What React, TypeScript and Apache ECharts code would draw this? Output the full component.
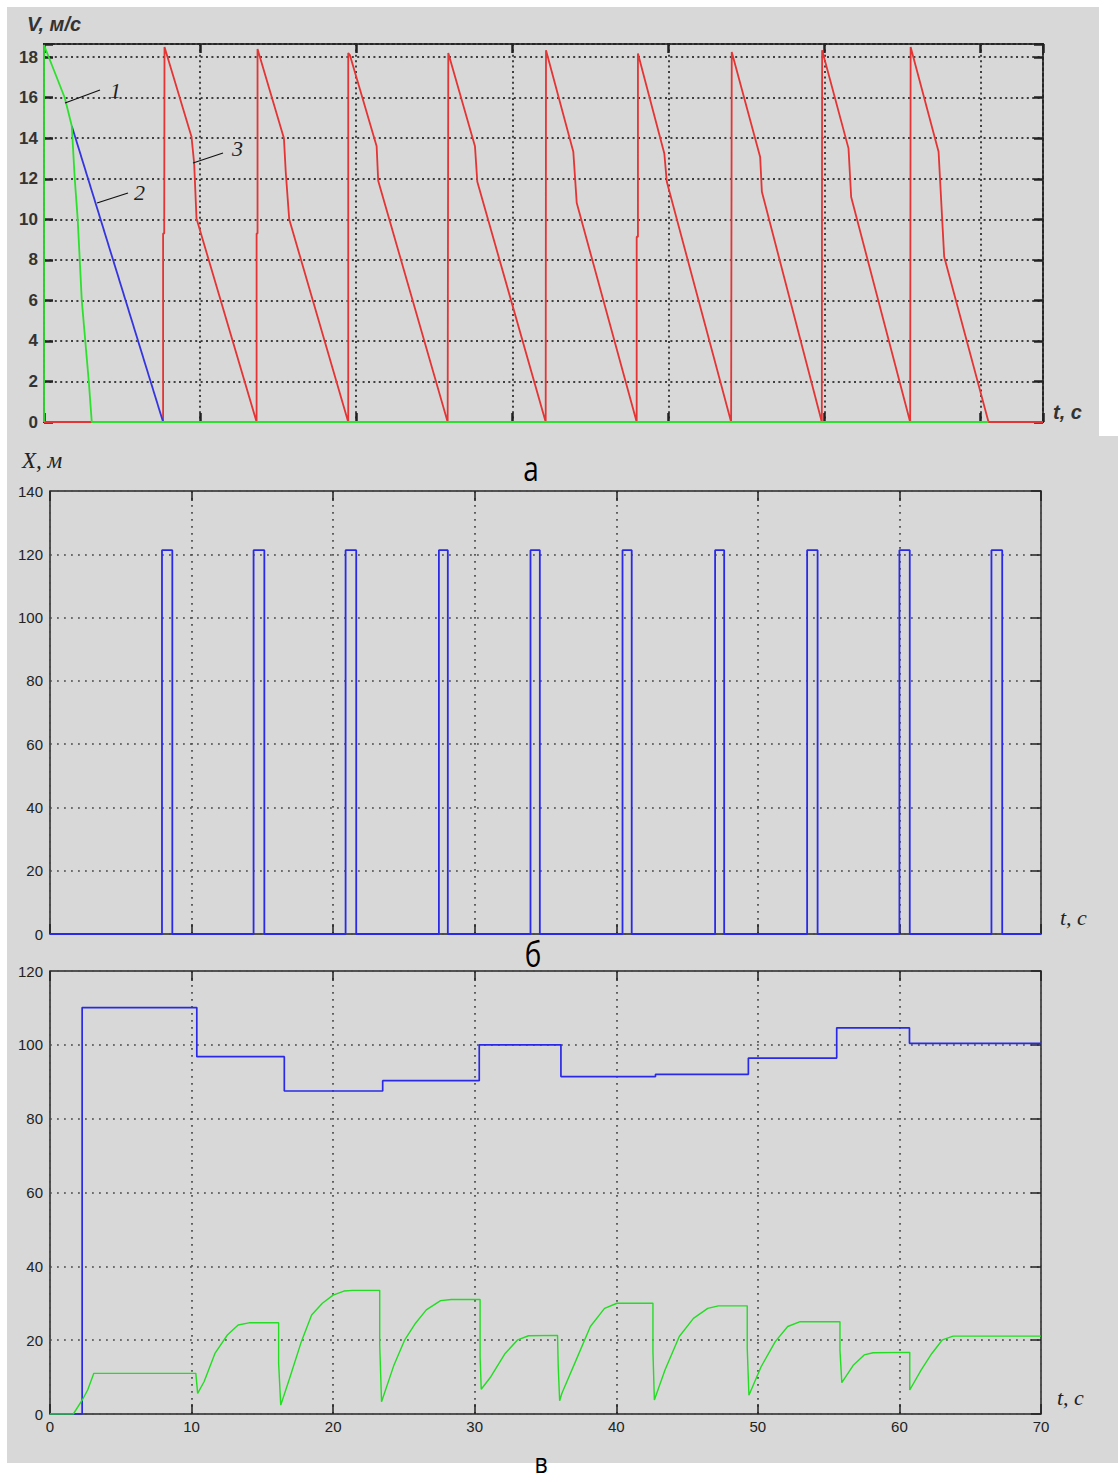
import React, { useEffect, useRef } from "react";
import * as echarts from "echarts";

// ---------- Panel а: V, м/с versus t, c ----------
const speedCurve1: [number, number][] = [
  [0, 0], [0, 18.6], [1.33, 16], [1.78, 14.6], [1.97, 12], [2.16, 10], [2.42, 6], [2.87, 2], [3.06, 0], [60.5, 0],
];
const speedCurve2: [number, number][] = [
  [1.78, 14.6], [7.63, 0],
];
const speedCurve3: [number, number][] = [
  [0, 0], [7.63, 0], [7.63, 9.3], [7.7, 9.3], [7.72, 18.5], [9.45, 14.07], [9.62, 12.76], [9.77, 10.04], [13.62, 0],
  [13.62, 9.3], [13.68, 9.3], [13.68, 18.4], [15.37, 14.0], [15.49, 12.3], [15.71, 10.0], [19.49, 0],
  [19.49, 18.2], [19.6, 18.1], [21.31, 13.6], [21.41, 11.9], [25.86, 0],
  [25.9, 18.2], [27.61, 13.6], [27.76, 11.85], [32.14, 0],
  [32.16, 18.34], [33.91, 13.33], [34.13, 10.8], [37.97, 0],
  [37.97, 9.14], [38.05, 9.14], [38.05, 18.18], [39.74, 13.25], [39.9, 11.85], [44.02, 0],
  [44.06, 18.26], [45.88, 13.08], [45.99, 11.36], [49.83, 0],
  [49.85, 18.34], [51.54, 13.5], [51.71, 11.1], [55.49, 0],
  [55.52, 18.5], [57.31, 13.33], [57.67, 8.15], [60.51, 0], [64, 0],
];
const speedTicks = [0, 2, 4, 6, 8, 10, 12, 14, 16, 18];

// ---------- Panel б: X, м pulses ----------
const pulseStart = [7.91, 14.38, 20.88, 27.47, 33.94, 40.44, 46.98, 53.48, 60.0, 66.5];
const pulseEnd = [8.64, 15.14, 21.63, 28.1, 34.6, 41.09, 47.62, 54.22, 60.73, 67.26];
const pulseHeight = [121.3, 121.3, 121.3, 121.3, 121.3, 121.3, 121.3, 121.3, 121.3, 121.3];
const distanceTicks = [0, 20, 40, 60, 80, 100, 120, 140];

// ---------- Panel в: blue steps and green response ----------
const stepTimes = [2.27, 10.37, 16.55, 23.5, 30.32, 36.09, 42.77, 49.33, 55.57, 60.71];
const stepLevels = [110.1, 96.8, 87.5, 90.3, 100.0, 91.4, 92.0, 96.4, 104.6, 100.4];
const responseCurve: [number, number][] = [
  [0, 0], [1.65, 0], [2.28, 3.8], [2.66, 6.5], [3.09, 11.0], [10.3, 11.0],
  [10.43, 5.6], [10.89, 8.8], [11.65, 16.4], [12.53, 21.4], [13.29, 24.1], [14.05, 24.7], [16.15, 24.7],
  [16.15, 13.7], [16.3, 2.4], [16.96, 10.1], [17.72, 19.2], [18.48, 26.8], [19.24, 30.0], [20.0, 32.2], [20.76, 33.3], [21.39, 33.5], [23.29, 33.5],
  [23.29, 18.7], [23.42, 3.3], [24.3, 13.3], [25.06, 20.1], [25.82, 24.6], [26.58, 28.2], [27.59, 30.7], [28.35, 31.0], [30.38, 31.0],
  [30.38, 15.5], [30.46, 6.7], [31.14, 10.1], [32.15, 16.4], [33.04, 20.1], [33.8, 21.2], [35.85, 21.3],
  [35.9, 12.8], [36.0, 3.6], [36.16, 5.6], [37.16, 14.6], [38.17, 23.7], [39.17, 28.6], [40.05, 30.0], [42.59, 30.0],
  [42.59, 16.9], [42.69, 3.8], [43.44, 11.9], [44.45, 21.0], [45.45, 25.9], [46.46, 28.6], [47.21, 29.3], [49.25, 29.3],
  [49.25, 17.8], [49.37, 5.1], [50.23, 12.8], [51.23, 19.6], [52.11, 23.7], [52.99, 25.0], [55.8, 25.0],
  [55.8, 17.3], [55.93, 8.5], [56.76, 13.3], [57.51, 16.0], [58.14, 16.6], [60.73, 16.7],
  [60.73, 6.5], [61.53, 11.9], [62.29, 16.4], [63.04, 20.1], [63.79, 21.1], [70, 21.1],
];
const timeTicks = [0, 10, 20, 30, 40, 50, 60, 70];
const responseTicks = [0, 20, 40, 60, 80, 100, 120];

// ---------- builders ----------
function buildPulses(): [number, number][] {
  const pts: [number, number][] = [[0, 0]];
  pulseStart.forEach((s, i) => {
    pts.push([s, 0], [s, pulseHeight[i]], [pulseEnd[i], pulseHeight[i]], [pulseEnd[i], 0]);
  });
  pts.push([70, 0]);
  return pts;
}
function buildSteps(): [number, number][] {
  const pts: [number, number][] = [[0, 0]];
  let prev = 0;
  stepTimes.forEach((t, i) => {
    pts.push([t, prev], [t, stepLevels[i]]);
    prev = stepLevels[i];
  });
  pts.push([70, prev]);
  return pts;
}

const SANS = "'Liberation Sans', Arial, sans-serif";
const SERIF = "'Liberation Serif', 'Times New Roman', serif";
const CAPTION = "'Open Sans', 'Noto Sans', sans-serif";
const GRAY = "#d8d8d8";

function axis(o: any) {
  const {
    gridIndex, position, min, max, interval, labels, ticksLen, tickWidth, split, splitColor, splitWidth, dash,
    fontSize, fontWeight, labelColor, margin, tickShow,
  } = o;
  return {
    type: "value",
    gridIndex,
    position,
    min,
    max,
    interval,
    axisLine: { show: false, onZero: false },
    axisTick: {
      show: tickShow !== false,
      inside: true,
      length: ticksLen,
      lineStyle: { color: "#222", width: tickWidth },
    },
    axisLabel: {
      show: !!labels,
      fontFamily: SANS,
      fontSize,
      fontWeight: fontWeight || "normal",
      color: labelColor || "#222",
      margin,
      formatter: (v: number) => (labels && labels.includes(v) ? String(v) : ""),
    },
    splitLine: {
      show: !!split,
      lineStyle: { color: splitColor, width: splitWidth, type: dash },
    },
  };
}

function buildOption(): any {
  const aSplit = { split: true, splitColor: "#404040", splitWidth: 2, dash: [2, 3.4] };
  const bSplit = { split: true, splitColor: "#4a4a4a", splitWidth: 1.7, dash: [1.8, 5.2] };
  const xAxis = [
    axis({ gridIndex: 0, position: "bottom", min: 0, max: 64, interval: 10, ticksLen: 9, tickWidth: 2.5, ...aSplit }),
    axis({ gridIndex: 0, position: "top", min: 0, max: 64, interval: 10, ticksLen: 9, tickWidth: 2.5 }),
    axis({ gridIndex: 1, position: "bottom", min: 0, max: 70, interval: 10, ticksLen: 10, tickWidth: 1.5, ...bSplit }),
    axis({ gridIndex: 1, position: "top", min: 0, max: 70, interval: 10, ticksLen: 10, tickWidth: 1.5 }),
    axis({ gridIndex: 2, position: "bottom", min: 0, max: 70, interval: 10, ticksLen: 10, tickWidth: 1.5, ...bSplit, labels: timeTicks, fontSize: 15, margin: 5 }),
    axis({ gridIndex: 2, position: "top", min: 0, max: 70, interval: 10, ticksLen: 10, tickWidth: 1.5 }),
  ];
  const yAxis = [
    axis({ gridIndex: 0, position: "left", min: 0, max: 18.65, interval: 2, ticksLen: 9, tickWidth: 2.5, ...aSplit, labels: speedTicks, fontSize: 17, fontWeight: "bold", labelColor: "#333", margin: 6 }),
    axis({ gridIndex: 0, position: "right", min: 0, max: 18.65, interval: 2, ticksLen: 9, tickWidth: 2.5 }),
    axis({ gridIndex: 1, position: "left", min: 0, max: 140, interval: 20, ticksLen: 10, tickWidth: 1.5, ...bSplit, labels: distanceTicks, fontSize: 15, margin: 7, tickShow: false }),
    axis({ gridIndex: 1, position: "right", min: 0, max: 140, interval: 20, ticksLen: 10, tickWidth: 1.5 }),
    axis({ gridIndex: 2, position: "left", min: 0, max: 120, interval: 20, ticksLen: 10, tickWidth: 1.5, ...bSplit, labels: responseTicks, fontSize: 15, margin: 7, tickShow: false }),
    axis({ gridIndex: 2, position: "right", min: 0, max: 120, interval: 20, ticksLen: 10, tickWidth: 1.5 }),
  ];

  // axis pairs: grid g uses xAxis 2g and yAxis 2g
  const line = (name: string, data: [number, number][], color: string, width: number, g: number, z: number) => ({
    name,
    type: "line",
    xAxisIndex: 2 * g,
    yAxisIndex: 2 * g,
    data,
    showSymbol: false,
    symbol: "none",
    silent: true,
    z,
    lineStyle: { color, width },
  });

  const txt = (text: string, x: number, y: number, font: string, color = "#222", align = "left") => ({
    type: "text",
    z: 20,
    style: { text, x, y, font, fill: color, textAlign: align, textVerticalAlign: "middle" },
  });
  const caption = (text: string, x: number, y: number, size: number) => ({
    type: "text",
    z: 20,
    x,
    y,
    scaleX: 0.82,
    style: { text, x: 0, y: 0, font: `${size}px ${CAPTION}`, fill: "#000", textAlign: "center", textVerticalAlign: "middle" },
  });
  const lead = (x1: number, y1: number, x2: number, y2: number) => ({
    type: "line",
    z: 20,
    shape: { x1, y1, x2, y2 },
    style: { stroke: "#111", lineWidth: 1.3 },
  });

  return {
    animation: false,
    backgroundColor: "#ffffff",
    grid: [
      { left: 44, top: 44, width: 999, height: 378, show: true, borderColor: "#262626", borderWidth: 2, backgroundColor: "transparent", containLabel: false, outerBoundsMode: "none" },
      { left: 50, top: 491, width: 991, height: 443, show: true, borderColor: "#262626", borderWidth: 1.5, backgroundColor: "transparent", containLabel: false, outerBoundsMode: "none" },
      { left: 50, top: 971, width: 991, height: 443, show: true, borderColor: "#262626", borderWidth: 1.5, backgroundColor: "transparent", containLabel: false, outerBoundsMode: "none" },
    ],
    xAxis,
    yAxis,
    series: [
      line("3", speedCurve3, "#e43434", 1.8, 0, 3),
      line("2", speedCurve2, "#3434e0", 1.8, 0, 4),
      line("1", speedCurve1, "#2ee02e", 1.8, 0, 5),
      line("X", buildPulses(), "#2a2ae6", 1.8, 1, 3),
      line("steps", buildSteps(), "#2a2ae6", 1.7, 2, 3),
      line("response", responseCurve, "#22dd22", 1.4, 2, 4),
    ],
    graphic: {
      elements: [
        { type: "rect", z: -10, shape: { x: 7, y: 7, width: 1092, height: 429 }, style: { fill: GRAY } },
        { type: "rect", z: -10, shape: { x: 7, y: 436, width: 1111, height: 1027 }, style: { fill: GRAY } },
        txt("V, м/с", 27, 24, `italic bold 20px ${SANS}`, "#333"),
        txt("t, c", 1053, 412, `italic bold 20px ${SANS}`, "#333"),
        lead(65, 103, 100, 90),
        txt("1", 110, 90, `italic 22px ${SERIF}`),
        lead(97, 203, 128, 193),
        txt("2", 134, 192, `italic 22px ${SERIF}`),
        lead(193, 163, 223, 153),
        txt("3", 232, 148, `italic 22px ${SERIF}`),
        txt("X, м", 22, 460, `italic 23px ${SERIF}`),
        txt("t, c", 1060, 917, `italic 22px ${SERIF}`),
        txt("t, c", 1057, 1397, `italic 22px ${SERIF}`),
        caption("а", 531, 468, 34),
        caption("б", 533, 954, 34),
        caption("в", 541, 1463, 28),
      ],
    },
  };
}

export default function App() {
  const ref = useRef<HTMLDivElement>(null);
  useEffect(() => {
    document.body.style.margin = "0";
    const chart = echarts.init(ref.current!, undefined, { renderer: "svg" });
    chart.setOption(buildOption());
    return () => chart.dispose();
  }, []);
  return <div ref={ref} style={{ width: 1118, height: 1482 }} />;
}
